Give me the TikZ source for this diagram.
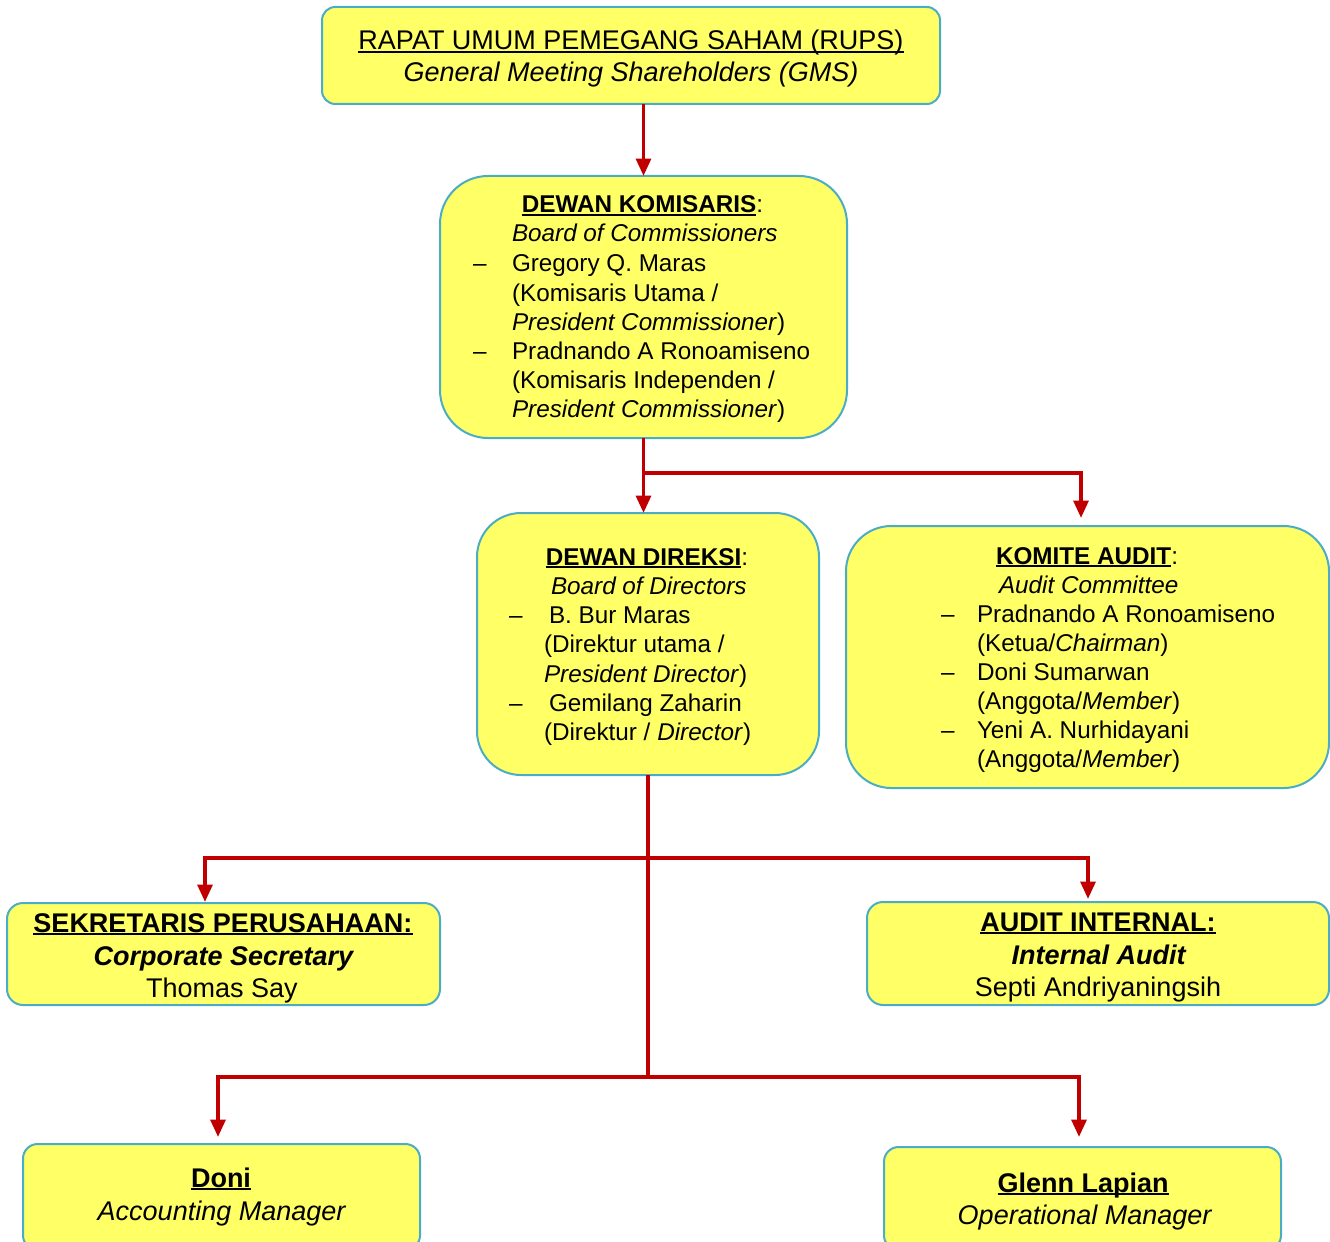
\documentclass[tikz,border=0pt]{standalone}
\usepackage{fontspec}
\setmainfont{Liberation Sans}
\usetikzlibrary{arrows.meta,calc}
\definecolor{boxfill}{RGB}{255,255,102}
\definecolor{boxline}{RGB}{75,172,198}
\definecolor{arrred}{RGB}{192,0,0}
\newcommand\myul[1]{\setbox0\hbox{#1}\rlap{\rule[-2.6pt]{\wd0}{1.5pt}}\box0}
\newcommand\fs{\fontsize{18.2}{21.8}\selectfont}
\newcommand\fl{\fontsize{20.25}{24}\selectfont}
\begin{document}
\begin{tikzpicture}[x=0.75pt,y=-0.75pt,
  orgbox/.style={draw=boxline,fill=boxfill,line width=1.5pt,inner sep=0pt,outer sep=0pt,rectangle},
  txt/.style={inner sep=0pt,outer sep=0pt,anchor=base west,font=\fs},
  ctxt/.style={inner sep=0pt,outer sep=0pt,anchor=base,font=\fs},
  ltxt/.style={inner sep=0pt,outer sep=0pt,anchor=base,font=\fl},
  ln/.style={draw=arrred,line width=2.8pt},
  arr/.style={ln,-{Triangle[width=11pt,length=13pt]}}]
\useasboundingbox (0,0) rectangle (1330,1241);
% boxes
\node[orgbox,rounded corners=10pt,minimum width=463.5pt,minimum height=72.75pt] (rups) at (631,55.5) {};
\node[orgbox,rounded corners=36pt,minimum width=305.25pt,minimum height=196.5pt] (kom) at (643.5,307) {};
\node[orgbox,rounded corners=33pt,minimum width=256.5pt,minimum height=196.5pt] (dir) at (648,644) {};
\node[orgbox,rounded corners=34pt,minimum width=362.25pt,minimum height=196.5pt] (audit) at (1087.5,657) {};
\node[orgbox,rounded corners=12pt,minimum width=324.75pt,minimum height=76.5pt] (sek) at (223.5,954) {};
\node[orgbox,rounded corners=12pt,minimum width=346.5pt,minimum height=77.25pt] (ai) at (1098,953.5) {};
\node[orgbox,rounded corners=11pt,minimum width=297.75pt,minimum height=79.5pt] (doni) at (221.5,1197) {};
\node[orgbox,rounded corners=11pt,minimum width=297.75pt,minimum height=77.25pt] (glenn) at (1082.5,1198.5) {};
% connectors
\coordinate (j1) at (643.5,473);
\coordinate (ta) at (1081,518);
\coordinate (h1) at (648,858);
\coordinate (h2) at (648,1077);
\coordinate (t1) at (205,902);
\coordinate (t2) at (1088,899);
\coordinate (t3) at (218,1137);
\coordinate (t4) at (1079,1137);
\draw[arr] (kom.north |- rups.south) -- (kom.north);
\draw[arr] (kom.south) -- (kom.south |- dir.north);
\draw[arr] (j1) -| (ta);
\draw[ln] (dir.south) -- (h2);
\draw[arr] (h1) -| (t1);
\draw[arr] (h1) -| (t2);
\draw[arr] (h2) -| (t3);
\draw[arr] (h2) -| (t4);
% RUPS
\node[ltxt] (rups1) at (631,50) {\myul{RAPAT UMUM PEMEGANG SAHAM (RUPS)}};
\node[ltxt] (rups2) at (631,82) {\textit{General Meeting Shareholders (GMS)}};
% Komisaris
\node[ctxt] (k0) at (642.5,213) {\myul{\textbf{DEWAN KOMISARIS}}:};
\node[txt] (k1) at (512,242) {\textit{Board of Commissioners}};
\node[txt] (kd1) at (473,272) {–};
\node[txt] (k2) at (512,272) {Gregory Q. Maras};
\node[txt] (k3) at (512,301) {(Komisaris Utama /};
\node[txt] (k4) at (512,330) {\textit{President Commissioner})};
\node[txt] (kd2) at (473,359) {–};
\node[txt] (k5) at (512,359) {Pradnando A Ronoamiseno};
\node[txt] (k6) at (512,388) {(Komisaris Independen /};
\node[txt] (k7) at (512,417) {\textit{President Commissioner})};
% Direksi
\node[ctxt] (d0) at (647,565) {\myul{\textbf{DEWAN DIREKSI}}:};
\node[txt] (d1) at (551,594) {\textit{Board of Directors}};
\node[txt] (dd1) at (509,623) {–};
\node[txt] (d2) at (549,623) {B. Bur Maras};
\node[txt] (d3) at (544,652) {(Direktur utama /};
\node[txt] (d4) at (544,682) {\textit{President Director})};
\node[txt] (dd2) at (509,711) {–};
\node[txt] (d5) at (549,711) {Gemilang Zaharin};
\node[txt] (d6) at (544,740) {(Direktur / \textit{Director})};
% Komite Audit
\node[ctxt] (a0) at (1087,564) {\myul{\textbf{KOMITE AUDIT}}:};
\node[txt] (a1) at (999,593) {\textit{Audit Committee}};
\node[txt] (ad1) at (941,622) {–};
\node[txt] (a2) at (977,622) {Pradnando A Ronoamiseno};
\node[txt] (a3) at (977,651) {(Ketua/\textit{Chairman})};
\node[txt] (ad2) at (941,680) {–};
\node[txt] (a4) at (977,680) {Doni Sumarwan};
\node[txt] (a5) at (977,709) {(Anggota/\textit{Member})};
\node[txt] (ad3) at (941,738) {–};
\node[txt] (a6) at (977,738) {Yeni A. Nurhidayani};
\node[txt] (a7) at (977,767) {(Anggota/\textit{Member})};
% Sekretaris
\node[ltxt] (s0) at (223,932) {\myul{\textbf{SEKRETARIS PERUSAHAAN:}}};
\node[ltxt] (s1) at (224,965) {\textbf{\textit{Corporate Secretary}}};
\node[ltxt] (s2) at (222,997) {Thomas Say};
% Audit Internal
\node[ltxt] (i0) at (1098,931) {\myul{\textbf{AUDIT INTERNAL:}}};
\node[ltxt] (i1) at (1099,964) {\textbf{\textit{Internal Audit}}};
\node[ltxt] (i2) at (1098,996) {Septi Andriyaningsih};
% Doni
\node[ltxt] (n0) at (221,1187) {\myul{\textbf{Doni}}};
\node[ltxt] (n1) at (222,1220) {\textit{Accounting Manager}};
% Glenn
\node[ltxt] (g0) at (1083,1192) {\myul{\textbf{Glenn Lapian}}};
\node[ltxt] (g1) at (1085,1224) {\textit{Operational Manager}};
\end{tikzpicture}
\end{document}
